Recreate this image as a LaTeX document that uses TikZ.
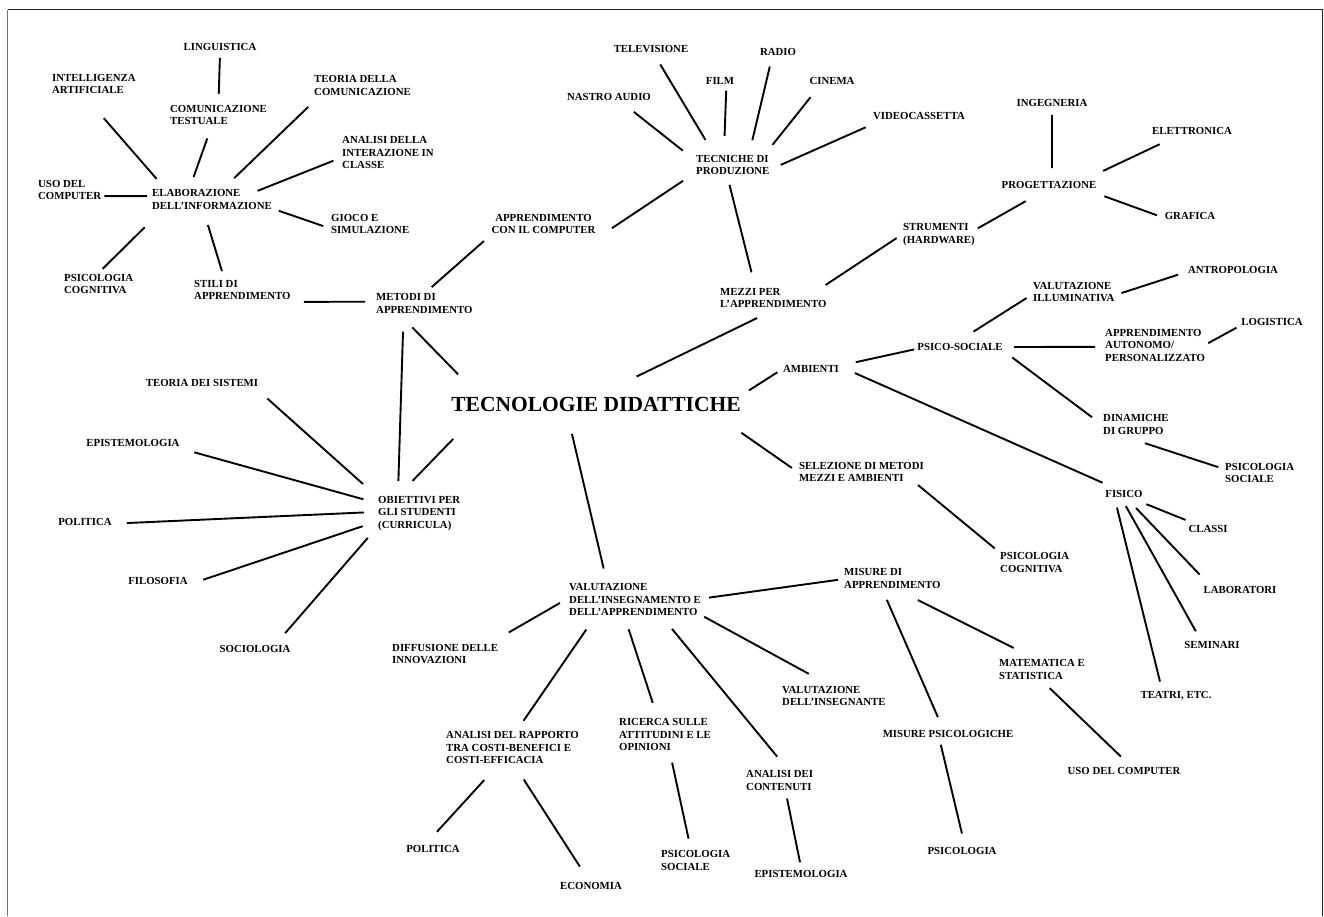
\documentclass[tikz,border=0pt]{standalone}
\usepackage{fontspec}
\setmainfont{Liberation Serif}
\usepackage{tikz}

\begin{document}
\begin{tikzpicture}[x=1pt, y=-1pt,
        lbl/.style={font=\bfseries\fontsize{10.8}{12.5}\selectfont, align=left, inner sep=3pt},
        gaps/.style 2 args={shorten <=#1, shorten >=#2},
        link/.style={line width=1.9pt}]
    \useasboundingbox (0,0) rectangle (1324,916);
    \draw [black!55, line width=1.8pt] (7.5,916) -- (7.5,9.7);
    \draw [black!85, line width=1.3pt] (7.5,9.7) -- (1322.7,9.7) -- (1322.7,916);

    \node[lbl] (lingu) at (220,47) {LINGUISTICA};
    \node[lbl, anchor=west] (intel) at (49,84) {INTELLIGENZA\\ARTIFICIALE};
    \node[lbl, anchor=west] (comtest) at (167,115) {COMUNICAZIONE\\TESTUALE};
    \node[lbl, anchor=west] (teocom) at (311,85.5) {TEORIA DELLA\\COMUNICAZIONE};
    \node[lbl, anchor=west] (anacl) at (339,152.5) {ANALISI DELLA\\INTERAZIONE IN\\CLASSE};
    \node[lbl, anchor=west] (usol) at (35,190) {USO DEL\\COMPUTER};
    \node[lbl, anchor=west] (elab) at (149,199.5) {ELABORAZIONE\\DELL’INFORMAZIONE};
    \node[lbl, anchor=west] (gioco) at (328,224) {GIOCO E\\SIMULAZIONE};
    \node[lbl, anchor=west] (psicog) at (61,284) {PSICOLOGIA\\COGNITIVA};
    \node[lbl, anchor=west] (stili) at (191,290) {STILI DI\\APPRENDIMENTO};
    \node[lbl, anchor=west] (metodi) at (373,303.5) {METODI DI\\APPRENDIMENTO};

    \node[lbl] (tv) at (651,49) {TELEVISIONE};
    \node[lbl] (radio) at (778,52) {RADIO};
    \node[lbl] (film) at (720,81) {FILM};
    \node[lbl] (cinema) at (832,81) {CINEMA};
    \node[lbl] (nastro) at (609,97) {NASTRO AUDIO};
    \node[lbl] (video) at (919,116) {VIDEOCASSETTA};
    \node[lbl, anchor=west] (tecniche) at (693,165) {TECNICHE DI\\PRODUZIONE};
    \node[lbl, align=center] (appcomp) at (543.5,224) {APPRENDIMENTO\\CON IL COMPUTER};
    \node[lbl, anchor=west] (mezzi) at (717,298) {MEZZI PER\\L’APPRENDIMENTO};

    \node[lbl] (ingeg) at (1052,103) {INGEGNERIA};
    \node[lbl] (elettr) at (1192,131) {ELETTRONICA};
    \node[lbl] (progett) at (1049,185) {PROGETTAZIONE};
    \node[lbl] (grafica) at (1190,216) {GRAFICA};
    \node[lbl, anchor=west] (strum) at (900,234.5) {STRUMENTI\\(HARDWARE)};
    \node[lbl] (antrop) at (1233,270) {ANTROPOLOGIA};
    \node[lbl, anchor=west] (valill) at (1030,292) {VALUTAZIONE\\ILLUMINATIVA};
    \node[lbl] (psicosoc) at (960,347) {PSICO-SOCIALE};
    \node[lbl] (ambienti) at (811,369) {AMBIENTI};
    \node[lbl, anchor=west] (appauto) at (1102,345) {APPRENDIMENTO\\AUTONOMO/\\PERSONALIZZATO};
    \node[lbl] (logist) at (1272,322) {LOGISTICA};
    \node[lbl, anchor=west] (dinam) at (1100,424.5) {DINAMICHE\\DI GRUPPO};
    \node[lbl, anchor=west] (psisocr) at (1222,473) {PSICOLOGIA\\SOCIALE};
    \node[lbl] (fisico) at (1124,494) {FISICO};
    \node[lbl] (classi) at (1208,529) {CLASSI};
    \node[lbl] (labor) at (1240,590) {LABORATORI};
    \node[lbl] (semin) at (1212,645) {SEMINARI};
    \node[lbl] (teatri) at (1176,696) {TEATRI, ETC.};
    \node[lbl, anchor=west] (selez) at (796,472) {SELEZIONE DI METODI\\MEZZI E AMBIENTI};
    \node[lbl, anchor=west] (psicogr) at (997,562.5) {PSICOLOGIA\\COGNITIVA};

    \node[font=\bfseries\fontsize{21.5}{24}\selectfont, inner sep=3pt] (tecno) at (596,404) {TECNOLOGIE DIDATTICHE};

    \node[lbl] (teosis) at (202,383) {TEORIA DEI SISTEMI};
    \node[lbl] (epist) at (133,443) {EPISTEMOLOGIA};
    \node[lbl, anchor=west] (obiett) at (375,513.5) {OBIETTIVI PER\\GLI STUDENTI\\(CURRICULA)};
    \node[lbl] (polit) at (85,522) {POLITICA};
    \node[lbl] (filos) at (158,581) {FILOSOFIA};
    \node[lbl] (sociol) at (255,649) {SOCIOLOGIA};

    \node[lbl, anchor=west] (valins) at (566,599.5) {VALUTAZIONE\\DELL’INSEGNAMENTO E\\DELL’APPRENDIMENTO};
    \node[lbl, anchor=west] (diffus) at (389,654) {DIFFUSIONE DELLE\\INNOVAZIONI};
    \node[lbl, anchor=west] (misure) at (841,578.5) {MISURE DI\\APPRENDIMENTO};
    \node[lbl, anchor=west] (valinsg) at (779,696) {VALUTAZIONE\\DELL’INSEGNANTE};
    \node[lbl, anchor=west] (anaras) at (443,747.5) {ANALISI DEL RAPPORTO\\TRA COSTI-BENEFICI E\\COSTI-EFFICACIA};
    \node[lbl, anchor=west] (ricerca) at (616,734.5) {RICERCA SULLE\\ATTITUDINI E LE\\OPINIONI};
    \node[lbl, anchor=west] (anacont) at (743,780.5) {ANALISI DEI\\CONTENUTI};
    \node[lbl] (politb) at (433,849) {POLITICA};
    \node[lbl] (econ) at (591,886) {ECONOMIA};
    \node[lbl, anchor=west] (psisocb) at (658,860.5) {PSICOLOGIA\\SOCIALE};
    \node[lbl] (epistb) at (801,874) {EPISTEMOLOGIA};
    \node[lbl, anchor=west] (matem) at (996,669.5) {MATEMATICA E\\STATISTICA};
    \node[lbl] (misps) at (948,734) {MISURE PSICOLOGICHE};
    \node[lbl] (psicol) at (962,851) {PSICOLOGIA};
    \node[lbl] (usor) at (1124,771) {USO DEL COMPUTER};

    \begin{scope}[link]
    \draw [gaps={4pt}{8pt}] (lingu.south) -- (comtest.north);
    \draw [gaps={28pt}{10pt}] (intel.-123) -- (elab.165);
    \draw [gaps={11pt}{10pt}] (comtest.-120) -- (elab.149);
    \draw [gaps={12pt}{12pt}] (teocom.-164) -- (elab.44);
    \draw [gaps={6pt}{-12pt}] (anacl.-173) -- (elab.13);
    \draw [gaps={0pt}{2pt}] (usol.-10) -- (elab.177);
    \draw [gaps={5pt}{4pt}] (gioco.-175) -- (elab.-9);
    \draw [gaps={3pt}{21pt}] (psicog.82) -- (elab.-166);
    \draw [gaps={6pt}{13pt}] (stili.145) -- (elab.-121);
    \draw [gaps={10pt}{8pt}] (stili.-13) -- (metodi.178);
    \draw [gaps={5pt}{6pt}] (metodi.75) -- (appcomp.south west);
    \draw [gaps={16pt}{12pt}] (appcomp.south east) -- (tecniche.-167);

    \draw [gaps={13pt}{13pt}] (nastro.-25) -- (tecniche.171);
    \draw [gaps={10pt}{14pt}] (tv.-59) -- (tecniche.147);
    \draw [gaps={3pt}{16pt}] (film.-47) -- (tecniche.124);
    \draw [gaps={8pt}{12pt}] (radio.-133) -- (tecniche.38);
    \draw [gaps={12pt}{9pt}] (cinema.-154) -- (tecniche.21);
    \draw [gaps={11pt}{9pt}] (video.-171) -- (tecniche.-5);
    \draw [gaps={7pt}{13pt}] (tecniche.-111) -- (mezzi.145);

    \draw [gaps={0pt}{4pt}] (mezzi.14) -- (strum.-178);
    \draw [gaps={0pt}{19pt}] (strum.9) -- (progett.-135);
    \draw [gaps={5pt}{10pt}] (ingeg.south) -- (progett.66);
    \draw [gaps={15pt}{17pt}] (elettr.-160) -- (progett.10);
    \draw [gaps={13pt}{5pt}] (progett.-9) -- (grafica.-178);
    \draw [gaps={16pt}{39pt}] (mezzi.-98) -- (tecno.62);

    \draw [gaps={15pt}{27pt}] (metodi.-150) -- (tecno.175);
    \draw [gaps={15pt}{12pt}] (metodi.-148) -- (obiett.136);
    \draw [gaps={17pt}{34pt}] (obiett.132) -- (tecno.-175);
    \draw [gaps={13pt}{16pt}] (teosis.-7) -- (obiett.157);
    \draw [gaps={12pt}{12pt}] (epist.-7) -- (obiett.166);
    \draw [gaps={12pt}{11pt}] (polit.-3) -- (obiett.178);
    \draw [gaps={13pt}{13pt}] (filos.-5) -- (obiett.-169);
    \draw [gaps={12pt}{11pt}] (sociol.17) -- (obiett.-160);

    \draw [gaps={6pt}{3pt}] (tecno.4) -- (ambienti.-177);
    \draw [gaps={32pt}{5pt}] (tecno.-5) -- (selez.179);
    \draw [gaps={20pt}{12pt}] (tecno.-160) -- (valins.146);

    \draw [gaps={14pt}{0pt}] (ambienti.7) -- (psicosoc.-177);
    \draw [gaps={14pt}{11pt}] (ambienti.3) -- (fisico.149);
    \draw [gaps={16pt}{4pt}] (psicosoc.north) -- (valill.-175);
    \draw [gaps={4pt}{7pt}] (valill.-3) -- (antrop.-177);
    \draw [gaps={8pt}{7pt}] (psicosoc.east) -- (appauto.-178);
    \draw [gaps={0pt}{2pt}] (appauto.2) -- (logist.-172);
    \draw [gaps={8pt}{10pt}] (psicosoc.-7) -- (dinam.178);
    \draw [gaps={18pt}{4pt}] (dinam.-122) -- (psisocr.173);
    \draw [gaps={9pt}{6pt}] (fisico.-26) -- (classi.158);
    \draw [gaps={10pt}{12pt}] (fisico.-53) -- (labor.168);
    \draw [gaps={6pt}{8pt}] (fisico.-99) -- (semin.151);
    \draw [gaps={7pt}{7pt}] (fisico.-142) -- (teatri.152);
    \draw [gaps={0pt}{3pt}] (selez.-13) -- (psicogr.162);

    \draw [gaps={5pt}{3pt}] (valins.1) -- (misure.-179);
    \draw [gaps={7pt}{17pt}] (valins.west) -- (diffus.15);
    \draw [gaps={0pt}{19pt}] (valins.-14) -- (valinsg.123);
    \draw [gaps={13pt}{9pt}] (valins.-155) -- (anaras.73);
    \draw [gaps={11pt}{13pt}] (valins.-117) -- (ricerca.113);
    \draw [gaps={13pt}{14pt}] (valins.-34) -- (anacont.64);
    \draw [gaps={18pt}{14pt}] (anaras.-130) -- (politb.129);
    \draw [gaps={15pt}{15pt}] (anaras.-81) -- (econ.114);
    \draw [gaps={9pt}{9pt}] (ricerca.-75) -- (psisocb.112);
    \draw [gaps={5pt}{5pt}] (anacont.-64) -- (epistb.north);
    \draw [gaps={19pt}{19pt}] (misure.-57) -- (matem.131);
    \draw [gaps={9pt}{11pt}] (misure.-125) -- (misps.130);
    \draw [gaps={4pt}{11pt}] (misps.-140) -- (psicol.70);
    \draw [gaps={8pt}{11pt}] (matem.-82) -- (usor.55);
    \end{scope}
\end{tikzpicture}
\end{document}
